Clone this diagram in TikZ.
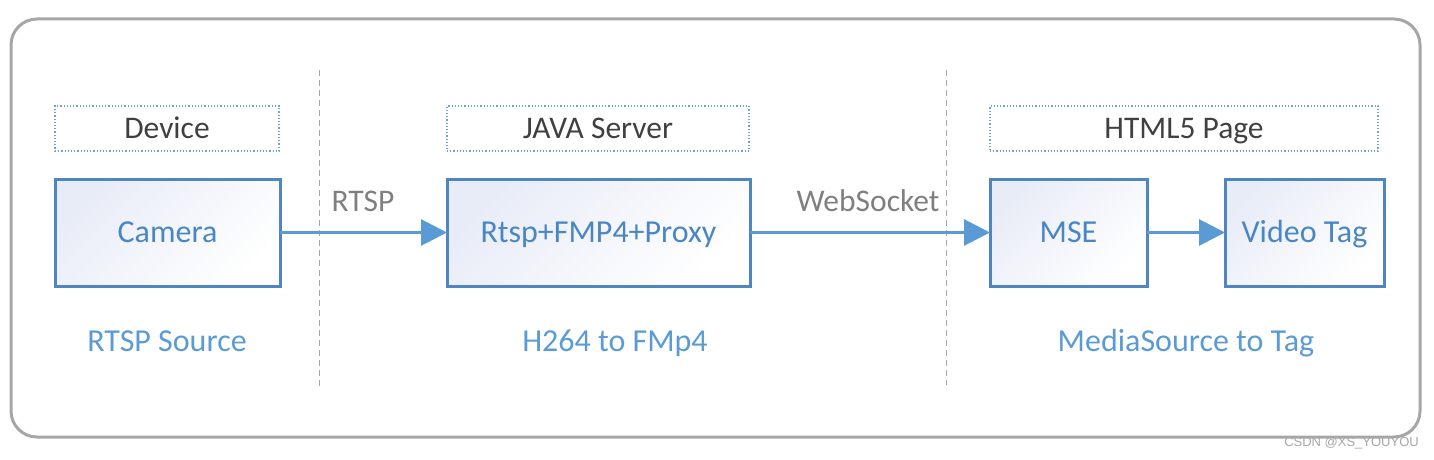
\documentclass[tikz,border=0pt]{standalone}
\usepackage{fontspec}
\setmainfont{Carlito}
\newfontfamily\wmfont{Liberation Sans}
\usetikzlibrary{arrows.meta}
\definecolor{boxline}{HTML}{4F86C0}
\definecolor{arrowblue}{HTML}{5B9BD5}
\definecolor{labelblue}{HTML}{5B9BD5}
\definecolor{boxtext}{HTML}{4A86C4}
\definecolor{frame}{HTML}{A6A6A6}
\definecolor{headtext}{HTML}{404040}
\definecolor{protext}{HTML}{7F7F7F}
\definecolor{shadefill}{HTML}{E8ECF7}
\definecolor{dotline}{HTML}{6FA3D6}
\tikzset{
  txt/.style={text height=24pt, text depth=4pt},
  mainbox/.style={txt, draw=boxline, line width=3pt, inner sep=0pt, outer sep=0pt,
    minimum height=107pt, top color=shadefill, bottom color=white, shading angle=45,
    text=boxtext, font=\fontsize{32}{38}\selectfont},
  headbox/.style={txt, draw=dotline, line width=1.2pt, dotted, inner sep=0pt, outer sep=0pt,
    minimum height=45pt, text=headtext, font=\fontsize{31.5}{37}\selectfont},
  sublabel/.style={txt, text=labelblue, font=\fontsize{32}{38}\selectfont, inner sep=0pt},
  protolabel/.style={txt, text=protext, font=\fontsize{31.5}{37}\selectfont, inner sep=0pt},
  flow/.style={draw=arrowblue, line width=3pt, -{Triangle[length=26pt,width=26pt]}},
  sepline/.style={draw=frame, line width=1pt, dash pattern=on 6pt off 4pt},
}
\begin{document}
\begin{tikzpicture}[x=1pt,y=-1pt]
\useasboundingbox (0,0) rectangle (1434,460);
% outer frame
\draw[frame, line width=3pt, rounded corners=26pt] (11,19) rectangle (1420,437);
% separators
\coordinate (s1t) at (319,70); \coordinate (s1b) at (319,387);
\coordinate (s2t) at (946,70); \coordinate (s2b) at (946,385);
\draw[sepline] (s1t) -- (s1b);
\draw[sepline] (s2t) -- (s2b);
% header boxes
\node[headbox, minimum width=224pt] (hdev) at (167,128.5) {Device};
\node[headbox, minimum width=302pt] (hjava) at (598,128.5) {JAVA Server};
\node[headbox, minimum width=388pt] (hhtml) at (1184,128.5) {HTML5 Page};
% main boxes
\node[mainbox, minimum width=225pt] (cam) at (167.5,232.5) {Camera};
\node[mainbox, minimum width=303pt] (proxy) at (598.5,232.5) {Rtsp+FMP4+Proxy};
\node[mainbox, minimum width=157pt] (mse) at (1068.5,232.5) {MSE};
\node[mainbox, minimum width=159pt] (vtag) at (1304.5,232.5) {Video Tag};
% arrows
\draw[flow] (cam.east) -- (proxy.west);
\draw[flow] (proxy.east) -- (mse.west);
\draw[flow] (mse.east) -- (vtag.west);
% protocol labels
\node[protolabel] (lrtsp) at (363,201) {RTSP};
\node[protolabel] (lws) at (868,201) {WebSocket};
% sub labels
\node[sublabel] (l1) at (167,341) {RTSP Source};
\node[sublabel] (l2) at (615,341) {H264 to FMp4};
\node[sublabel] (l3) at (1186,341) {MediaSource to Tag};
% watermark
\node[text=black!35, font=\wmfont\fontsize{13}{15}\selectfont, inner sep=0pt, anchor=east] (wm) at (1419,443) {CSDN @XS\_YOUYOU};
\end{tikzpicture}
\end{document}
